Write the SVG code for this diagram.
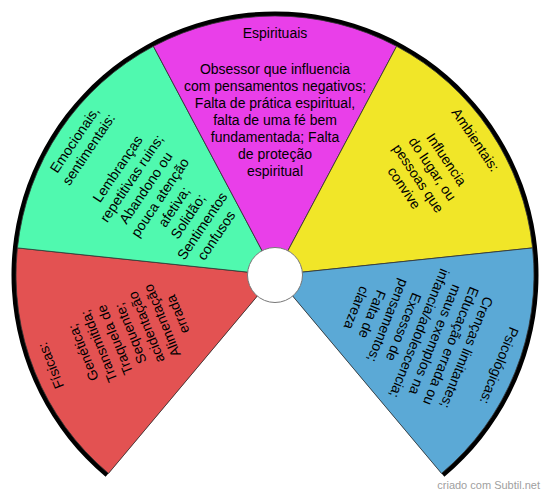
<svg xmlns="http://www.w3.org/2000/svg" width="550" height="497" viewBox="0 0 550 497">
<style>
.seg{stroke:#333;stroke-width:0.8}
.t{font-family:"Liberation Sans",Arial,sans-serif;font-size:14px;fill:#000;text-anchor:middle}
.credit{font-family:"Liberation Sans",Arial,sans-serif;font-size:11px;fill:#a0a0a0;text-anchor:end}
</style>
<rect width="550" height="497" fill="#fff"/>
<path d="M275,275 L105.6,476.8 A263.5,263.5 0 1 1 444.4,476.8 Z" fill="#000"/>
<g id="fisicas">
<path class="seg" d="M275,275 L108.5,473.4 A259,259 0 0 1 17.4,247.9 Z" fill="#e35252"/>
<g transform="rotate(-112 275 275)">
<text class="t" x="275" y="38">Físicas:</text>
<text class="t" x="275" y="73">Genética;</text>
<text class="t" x="275" y="90">Transmitida;</text>
<text class="t" x="275" y="107">Traquela de</text>
<text class="t" x="275" y="124">Sequente;</text>
<text class="t" x="275" y="141">acidentação</text>
<text class="t" x="275" y="158">Alimentação</text>
<text class="t" x="275" y="175">errada</text>
</g>
</g>
<g id="emocionais">
<path class="seg" d="M275,275 L17.4,247.9 A259,259 0 0 1 153.4,46.3 Z" fill="#50f9af"/>
<g transform="rotate(-56 275 275)">
<text class="t" x="275" y="38">Emocionais,</text>
<text class="t" x="275" y="55">sentimentais:</text>
<text class="t" x="275" y="90">Lembranças</text>
<text class="t" x="275" y="107">repetitivas ruins;</text>
<text class="t" x="275" y="124">Abandono ou</text>
<text class="t" x="275" y="141">pouca atenção</text>
<text class="t" x="275" y="158">afetiva;</text>
<text class="t" x="275" y="175">Solidão;</text>
<text class="t" x="275" y="192">Sentimentos</text>
<text class="t" x="275" y="209">confusos</text>
</g>
</g>
<g id="espirituais">
<path class="seg" d="M275,275 L153.4,46.3 A259,259 0 0 1 396.6,46.3 Z" fill="#e93fe9"/>
<text class="t" x="275" y="38">Espirituais</text>
<text class="t" x="275" y="73.5">Obsessor que influencia</text>
<text class="t" x="275" y="90.5">com pensamentos negativos;</text>
<text class="t" x="275" y="107.5">Falta de prática espiritual,</text>
<text class="t" x="275" y="124.5">falta de uma fé bem</text>
<text class="t" x="275" y="141.5">fundamentada; Falta</text>
<text class="t" x="275" y="158.5">de proteção</text>
<text class="t" x="275" y="175.5">espiritual</text>
</g>
<g id="ambientais">
<path class="seg" d="M275,275 L396.6,46.3 A259,259 0 0 1 532.6,247.9 Z" fill="#f1e628"/>
<g transform="rotate(56 275 275)">
<text class="t" x="275" y="38">Ambientais:</text>
<text class="t" x="275" y="73">Influencia</text>
<text class="t" x="275" y="90">do lugar, ou</text>
<text class="t" x="275" y="107">pessoas que</text>
<text class="t" x="275" y="124">convive</text>
</g>
</g>
<g id="psicologicas">
<path class="seg" d="M275,275 L532.6,247.9 A259,259 0 0 1 441.5,473.4 Z" fill="#5ba9d6"/>
<g transform="rotate(112 275 275)">
<text class="t" x="275" y="38">Psicológicas:</text>
<text class="t" x="275" y="73">Crenças limitantes;</text>
<text class="t" x="275" y="90">Educação errada ou</text>
<text class="t" x="275" y="107">maus exemplos na</text>
<text class="t" x="275" y="124">infancia/adolescencia;</text>
<text class="t" x="275" y="141">Excesso de</text>
<text class="t" x="275" y="158">pensamentos;</text>
<text class="t" x="275" y="175">Falta de</text>
<text class="t" x="275" y="192">clareza</text>
</g>
</g>
<g id="center">
<circle cx="275" cy="275" r="27.5" fill="#fff" stroke="#777" stroke-width="1"/>
</g>
<g id="connectors"></g>
<text class="credit" x="540" y="489">criado com Subtil.net</text>
</svg>
